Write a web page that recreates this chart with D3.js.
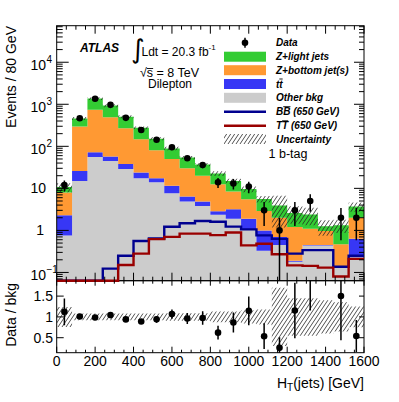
<!DOCTYPE html>
<html><head><meta charset="utf-8">
<script src="https://cdn.jsdelivr.net/npm/d3@7"></script>
<style>body{margin:0;background:#fff} text{font-family:"Liberation Sans",Arial,Helvetica,sans-serif;fill:#000}</style>
</head><body><svg id="c" width="399" height="402"></svg>
<script>
// ---------------- data ----------------
const binLow = [0,80,160,240,320,400,480,560,640,720,800,880,960,1040,1120,1200,1280,1360,1440,1520];
const binWidth = 80;
const otherBkg = [0.76,15,56,45,29,17.5,14,7.7,4.9,3.8,2.35,1.9,1.06,0.33,0.45,0.18,0.44,0.44,0.13,0.23];
const ttbar    = [1.54,11,16,12,9,6.5,3.5,3.8,1.5,1.1,0.51,1.3,0.84,0.67,0.25,0.01,0.01,0.01,0.005,0.40];
const zBottom  = [5.7,269,668,433,232,124,63.5,38.5,23.6,15.1,9.74,5.2,3.6,1.9,1.3,1.01,0.65,0.52,0.335,1.37];
const zLight   = [2.7,165,630,440,235,127,71,39,24,17,9.9,6.6,4.1,2.7,1.9,1.4,1.3,0.28,0.86,1.7];
const dataCounts = [12,465,1350,970,475,245,143,95,52,36,14,13,11,3,1,3,5,0,2,2];
const relUnc   = [0.24,0.08,0.08,0.08,0.08,0.08,0.08,0.09,0.09,0.09,0.13,0.13,0.16,0.18,0.70,0.45,0.45,0.40,0.35,0.25];
const signalBB = [0.02,0.03,0.05,0.123,0.25,0.56,0.64,1.22,1.48,1.68,1.6,1.23,1.06,0.76,0.63,0.28,0.34,0.34,0.136,0.25];
const signalTT = [0.01,0.02,0.03,0.05,0.15,0.28,0.62,0.70,0.84,0.84,0.77,0.89,0.44,0.48,0.27,0.147,0.143,0.13,0.08,0.21];
const yMainExps = [-1,0,1,2,3,4];
const xTickLabels = [0,200,400,600,800,1000,1200,1400,1600];
const ratioTickLabels = [0.5,1,1.5];
const legendLabels = ["Data","Z+light jets","Z+bottom jet(s)","tt","Other bkg","BB (650 GeV)","TT (650 GeV)","Uncertainty"];

// ---------------- layout ----------------
const L=56.7, R=364, T=25.7, MB=280.7, RB=352.7;
const svg = d3.select('#c');
svg.append('rect').attr('width',399).attr('height',402).attr('fill','#fff');
const x = d3.scaleLinear().domain([0,1600]).range([L,R]);
const y = d3.scaleLog().domain([0.0636,7.4e4]).range([MB,T]).clamp(true);
const yr = d3.scaleLinear().domain([0.14,1.87]).range([RB,MB]);
const safe = v => Math.max(v,1e-6);

const defs = svg.append('defs');
const pat = defs.append('pattern').attr('id','hatch').attr('patternUnits','userSpaceOnUse')
  .attr('width',4).attr('height',6);
pat.append('path').attr('d','M0,6 L4,0 M-1,1.5 L1,-1.5 M3,7.5 L5,4.5')
  .attr('stroke','#222').attr('stroke-width',0.8).attr('fill','none');
defs.append('clipPath').attr('id','clipMain').append('rect').attr('x',L).attr('y',T).attr('width',R-L).attr('height',MB-T);
defs.append('clipPath').attr('id','clipRatio').append('rect').attr('x',L).attr('y',MB).attr('width',R-L).attr('height',RB-MB);

const rows = binLow.map((b,i)=>({lo:b, hi:b+binWidth, other:otherBkg[i], ttbar:ttbar[i], zb:zBottom[i], zl:zLight[i]}));
const keys = ['other','ttbar','zb','zl'];
const colors = {other:'#cccccc', ttbar:'#3737f5', zb:'#ff9933', zl:'#33cc33'};
const series = d3.stack().keys(keys)(rows);
const totals = rows.map(r=>r.other+r.ttbar+r.zb+r.zl);

const gMain = svg.append('g').attr('clip-path','url(#clipMain)');
const area = d3.area().x(p=>x(p.x)).y0(p=>y(safe(p.y0))).y1(p=>y(safe(p.y1)));
series.forEach(s=>{
  const pts = s.flatMap(d=>[{x:d.data.lo,y0:d[0],y1:d[1]},{x:d.data.hi,y0:d[0],y1:d[1]}]);
  gMain.append('path').attr('d',area(pts)).attr('fill',colors[s.key]);
});
// uncertainty band main
const uPts = rows.flatMap((r,i)=>[{x:r.lo,y0:totals[i]*(1-relUnc[i]),y1:totals[i]*(1+relUnc[i])},{x:r.hi,y0:totals[i]*(1-relUnc[i]),y1:totals[i]*(1+relUnc[i])}]);
gMain.append('path').attr('d',area(uPts)).attr('fill','url(#hatch)');

// frames
svg.append('rect').attr('x',L).attr('y',T).attr('width',R-L).attr('height',MB-T).attr('fill','none').attr('stroke','#000').attr('stroke-width',1);
svg.append('rect').attr('x',L).attr('y',MB).attr('width',R-L).attr('height',RB-MB).attr('fill','none').attr('stroke','#000').attr('stroke-width',1);

// signal lines
const stepPts = vals => vals.flatMap((v,i)=>[[binLow[i],v],[binLow[i]+binWidth,v]]);
const line = d3.line().x(p=>x(p[0])).y(p=>y(safe(p[1])));
svg.append('path').attr('d',line(stepPts(signalBB))).attr('fill','none').attr('stroke','#00008f').attr('stroke-width',2.4);
svg.append('path').attr('d',line(stepPts(signalTT))).attr('fill','none').attr('stroke','#990000').attr('stroke-width',2.4);

// data main
const gData = svg.append('g').attr('clip-path','url(#clipMain)');
dataCounts.forEach((n,i)=>{
  if(n<=0) return;
  const cx = x(binLow[i]+binWidth/2), e=Math.sqrt(n);
  gData.append('line').attr('x1',cx).attr('x2',cx).attr('y1',y(safe(n-e))).attr('y2',y(n+e)).attr('stroke','#000').attr('stroke-width',1.5);
  gData.append('circle').attr('cx',cx).attr('cy',y(n)).attr('r',3.3).attr('fill','#000');
});

// ratio panel
const gRatio = svg.append('g').attr('clip-path','url(#clipRatio)');
const rArea = d3.area().x(p=>x(p.x)).y0(p=>yr(p.y0)).y1(p=>yr(p.y1));
const rPts = rows.flatMap((r,i)=>[{x:r.lo,y0:1-relUnc[i],y1:1+relUnc[i]},{x:r.hi,y0:1-relUnc[i],y1:1+relUnc[i]}]);
gRatio.append('path').attr('d',rArea(rPts)).attr('fill','url(#hatch)');
dataCounts.forEach((n,i)=>{
  if(n<=0) return;
  const cx = x(binLow[i]+binWidth/2), r=n/totals[i], e=Math.sqrt(n)/totals[i];
  gRatio.append('line').attr('x1',cx).attr('x2',cx).attr('y1',yr(r-e)).attr('y2',yr(r+e)).attr('stroke','#000').attr('stroke-width',1.5);
  gRatio.append('circle').attr('cx',cx).attr('cy',yr(r)).attr('r',3.3).attr('fill','#000');
});

// ticks
const tk = svg.append('g').attr('stroke','#000').attr('stroke-width',1);
for(let ex=-2; ex<=5; ex++) for(let m=1;m<=9;m++){
  const v=m*Math.pow(10,ex);
  if(v<y.domain()[0]||v>y.domain()[1]) continue;
  const yy=y(v), maj=(m===1);
  tk.append('line').attr('x1',L).attr('x2',L+(maj?12:6)).attr('y1',yy).attr('y2',yy);
  tk.append('line').attr('x1',R).attr('x2',R-(maj?10:5)).attr('y1',yy).attr('y2',yy);
}
for(let v=0; v<=1600; v+=50){
  const xx=x(v), maj=(v%200===0);
  tk.append('line').attr('x1',xx).attr('x2',xx).attr('y1',T).attr('y2',T+(maj?8:4));
  tk.append('line').attr('x1',xx).attr('x2',xx).attr('y1',MB).attr('y2',MB-(maj?8:4));
  tk.append('line').attr('x1',xx).attr('x2',xx).attr('y1',RB).attr('y2',RB-(maj?6:3));
  tk.append('line').attr('x1',xx).attr('x2',xx).attr('y1',MB).attr('y2',MB+(maj?5:3));
}
ratioTickLabels.forEach(v=>{
  tk.append('line').attr('x1',L).attr('x2',L+7).attr('y1',yr(v)).attr('y2',yr(v));
  tk.append('line').attr('x1',R).attr('x2',R-5).attr('y1',yr(v)).attr('y2',yr(v));
});

// tick labels
const lab = svg.append('g').attr('font-size',14);
yMainExps.forEach(ex=>{
  const yy=y(Math.pow(10,ex));
  if(ex===0){ lab.append('text').attr('x',44).attr('y',yy+5).attr('text-anchor','end').text('1'); }
  else if(ex===1){ lab.append('text').attr('x',46).attr('y',yy+5).attr('text-anchor','end').text('10'); }
  else {
    lab.append('text').attr('x',46).attr('y',yy+8).attr('text-anchor','end').text('10');
    lab.append('text').attr('x',46.5).attr('y',yy+0.5).attr('font-size',10).text(String(ex).replace('-','\u2212'));
  }
});
xTickLabels.forEach(v=>{
  lab.append('text').attr('x',x(v)).attr('y',366).attr('text-anchor','middle').text(v);
});
ratioTickLabels.forEach(v=>{
  lab.append('text').attr('x',53).attr('y',yr(v)+5).attr('text-anchor','end').text(v);
});

// axis titles
svg.append('text').attr('transform','translate(16,26) rotate(-90)').attr('text-anchor','end').attr('font-size',14).text('Events / 80 GeV');
svg.append('text').attr('transform','translate(16,283) rotate(-90)').attr('text-anchor','end').attr('font-size',14).text('Data / bkg');
const xt = svg.append('text').attr('x',364).attr('y',388).attr('text-anchor','end').attr('font-size',14);
xt.append('tspan').text('H');
xt.append('tspan').attr('font-size',10).attr('dy',3).text('T');
xt.append('tspan').attr('dy',-3).text('(jets) [GeV]');

// ATLAS labels
svg.append('text').attr('x',80).attr('y',51.7).attr('font-size',12).attr('font-weight','bold').attr('font-style','italic').text('ATLAS');
svg.append('text').attr('x',131).attr('y',58).attr('font-size',26).style('font-family','"DejaVu Sans"').text('\u222B');
const ldt = svg.append('text').attr('x',141.5).attr('y',56).attr('font-size',12);
ldt.append('tspan').text('Ldt = 20.3 fb');
ldt.append('tspan').attr('font-size',8).attr('dy',-6).text('-1');
const sq = svg.append('text').attr('x',140).attr('y',77).attr('font-size',12.5).text('\u221As = 8 TeV');
function overline(textSel, idx, capH){
  const n=textSel.node();
  const s=n.getStartPositionOfChar(idx), e=n.getEndPositionOfChar(idx);
  const yy = s.y - capH;
  svg.append('line').attr('x1',s.x).attr('x2',e.x).attr('y1',yy).attr('y2',yy).attr('stroke','#000').attr('stroke-width',0.9);
}
overline(sq,1,8.5);
svg.append('text').attr('x',170).attr('y',88).attr('font-size',12).attr('text-anchor','middle').text('Dilepton');
svg.append('text').attr('x',288).attr('y',158.3).attr('font-size',12.5).attr('text-anchor','middle').text('1 b-tag');

// legend
const legY = [42.7,56.7,70.2,84,97.8,111.7,125.8,139];
const lx0=224, lx1=266, ltx=276;
const lg = svg.append('g');
// data
lg.append('line').attr('x1',245).attr('x2',245).attr('y1',legY[0]-5).attr('y2',legY[0]+5).attr('stroke','#000').attr('stroke-width',1.5);
lg.append('circle').attr('cx',245).attr('cy',legY[0]).attr('r',3.3).attr('fill','#000');
[['zl',1],['zb',2],['ttbar',3],['other',4]].forEach(([k,i])=>{
  lg.append('rect').attr('x',lx0).attr('y',legY[i]-5).attr('width',lx1-lx0).attr('height',10).attr('fill',colors[k]);
});
lg.append('line').attr('x1',lx0).attr('x2',lx1).attr('y1',legY[5]).attr('y2',legY[5]).attr('stroke','#00008f').attr('stroke-width',2.4);
lg.append('line').attr('x1',lx0).attr('x2',lx1).attr('y1',legY[6]).attr('y2',legY[6]).attr('stroke','#990000').attr('stroke-width',2.4);
lg.append('rect').attr('x',lx0).attr('y',legY[7]-5).attr('width',lx1-lx0).attr('height',10).attr('fill','url(#hatch)');
legendLabels.forEach((t,i)=>{
  const te = lg.append('text').attr('x',ltx).attr('y',legY[i]+3.6).attr('font-size',10).attr('font-weight','bold').attr('font-style','italic').text(t);
  if(i===3||i===5||i===6) overline(te,1,8.6);
});
</script></body></html>
